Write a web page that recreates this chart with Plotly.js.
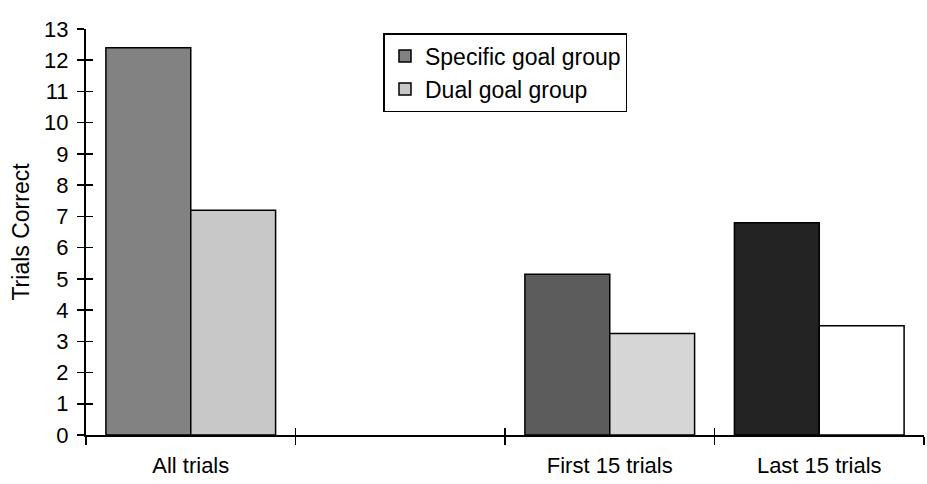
<!DOCTYPE html>
<html>
<head>
<meta charset="utf-8">
<script src="https://cdn.plot.ly/plotly-3.0.1.min.js"></script>
<style>html,body{margin:0;padding:0;background:#fff;}#chart{width:927px;height:484px;}</style>
</head>
<body>
<div id="chart"></div>
<script>
const categories = ['All trials', ' ', 'First 15 trials', 'Last 15 trials'];
const specificValues = [12.4, null, 5.15, 6.8];
const dualValues = [7.2, null, 3.25, 3.5];
const seriesNames = ['Specific goal group', 'Dual goal group'];
const specificColors = ['#828282', '#828282', '#5c5c5c', '#232323'];
const dualColors = ['#c8c8c8', '#c8c8c8', '#d6d6d6', '#ffffff'];
const yTicks = [0,1,2,3,4,5,6,7,8,9,10,11,12,13];

const fam = '"Liberation Sans", Arial, sans-serif';
const font = {family: fam, size: 21, color: '#000'};

const data = [
  {type:'bar', name: seriesNames[0], x: categories, y: specificValues, legendgroup:'a',
   marker:{color: specificColors, line:{color:'#000', width:1.5}}},
  {type:'bar', name: seriesNames[1], x: categories, y: dualValues, legendgroup:'b',
   marker:{color: dualColors, line:{color:'#000', width:1.5}}},
  // invisible helper traces so the overlaid axes draw the inner half of each tick mark
  {type:'scatter', mode:'markers', x: categories, y: categories.map(()=>0), marker:{opacity:0},
   xaxis:'x', yaxis:'y2', showlegend:false, hoverinfo:'skip'},
  {type:'scatter', mode:'markers', x: categories, y: categories.map(()=>0), marker:{opacity:0},
   xaxis:'x2', yaxis:'y', showlegend:false, hoverinfo:'skip'}
];

const layout = {
  width: 927, height: 484,
  margin: {l: 86, r: 3, t: 29, b: 49},
  paper_bgcolor: '#fff', plot_bgcolor: '#fff',
  font: font,
  barmode: 'group', bargap: 0.19, bargroupgap: 0,
  showlegend: true,
  legend: {x: 0.355, y: 0.99, xanchor:'left', yanchor:'top', bgcolor:'#fff', bordercolor:'#000', borderwidth:1.5,
           font: {family: fam, size: 23, color:'#000'}, tracegroupgap: 4, traceorder:'normal', itemwidth: 30},
  xaxis: {type:'category', categoryorder:'array', categoryarray: categories, range:[-0.5, 3.5],
          showline:true, linecolor:'#000', linewidth:2, tickson:'boundaries', ticks:'outside', ticklen:8, tickwidth:1.5, tickcolor:'#000',
          showgrid:false, zeroline:false, ticklabelstandoff: 10, fixedrange:true,
          tickfont: {family: fam, size: 22, color:'#000'}},
  yaxis: {range:[0,13], tickvals: yTicks, showline:true, linecolor:'#000', linewidth:2, ticks:'outside', ticklen:7, tickwidth:1.5, tickcolor:'#000',
          showgrid:false, zeroline:false, ticklabelstandoff: 4,
          tickfont: {family: fam, size: 22, color:'#000'},
          title:{text:'Trials Correct', font: {family: fam, size: 23, color:'#000'}, standoff: 8}},
  xaxis2: {type:'category', categoryorder:'array', categoryarray: categories, range:[-0.5, 3.5], overlaying:'x', anchor:'y', side:'bottom',
           tickson:'boundaries', ticks:'inside', ticklen:7, tickwidth:1.5, tickcolor:'#000', showticklabels:false, showline:false, showgrid:false, zeroline:false},
  yaxis2: {range:[0,13], tickvals: yTicks, overlaying:'y', anchor:'x', side:'left', ticks:'inside', ticklen:7, tickwidth:1.5, tickcolor:'#000',
           showticklabels:false, showline:false, showgrid:false, zeroline:false}
};

Plotly.newPlot('chart', data, layout, {displayModeBar:false, staticPlot:true});
</script>
</body>
</html>
